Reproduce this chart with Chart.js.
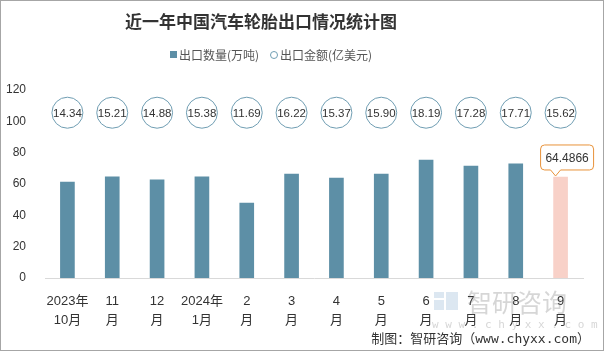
<!DOCTYPE html>
<html>
<head>
<meta charset="utf-8">
<script src="https://cdn.jsdelivr.net/npm/chart.js@4/dist/chart.umd.min.js"></script>
<style>
  html, body { margin: 0; padding: 0; background: #fff; }
  #wrap { width: 604px; height: 351px; position: relative; }
</style>
</head>
<body>
<div id="wrap"><canvas id="myChart" width="604" height="351"></canvas></div>
<script>
// data
const categories = ['2023年10月', '2023年11月', '2023年12月', '2024年1月', '2024年2月', '2024年3月',
                    '2024年4月', '2024年5月', '2024年6月', '2024年7月', '2024年8月', '2024年9月']
const tickLabels = [['2023年', '10月'], ['11', '月'], ['12', '月'], ['2024年', '1月'], ['2', '月'], ['3', '月'],
                    ['4', '月'], ['5', '月'], ['6', '月'], ['7', '月'], ['8', '月'], ['9', '月']]
const exportVolume = [61.3, 64.5, 62.7, 64.5, 47.9, 66.4, 63.8, 66.4, 75.3, 71.5, 72.8, 64.4866]
const exportAmount = [14.34, 15.21, 14.88, 15.38, 11.69, 16.22, 15.37, 15.90, 18.19, 17.28, 17.71, 15.62]
const yTicks = [0, 20, 40, 60, 80, 100, 120]
const bubbleRow = 105.5   // height (in axis units) where the amount bubbles sit
const seriesNames = ['出口数量(万吨)', '出口金额(亿美元)']

const BLUE = '#5d8fa6'
const PINK = '#f8d1c8'
const RING = '#6f9db2'
const ORANGE = '#e8923a'
const FONT = '"Liberation Sans", "Noto Sans CJK SC", sans-serif'

const last = exportVolume.length - 1

const decor = {
    id: 'decor',
    afterDatasetsDraw(chart) {
        const ctx = chart.ctx
        // numbers inside the bubbles
        const pts = chart.getDatasetMeta(1).data
        ctx.save()
        ctx.fillStyle = '#333'
        ctx.font = '11.5px ' + FONT
        ctx.textAlign = 'center'
        ctx.textBaseline = 'middle'
        pts.forEach((p, i) => ctx.fillText(exportAmount[i].toFixed(2), p.x, p.y + 1))
        ctx.restore()

        // callout over the last bar
        const bar = chart.getDatasetMeta(0).data[last]
        const bx = bar.x - 20, bw = 53, bh = 25
        const by = bar.y - 32
        const tipX = bar.x - 5
        ctx.save()
        ctx.beginPath()
        const r = 4
        ctx.moveTo(bx + r, by)
        ctx.lineTo(bx + bw - r, by)
        ctx.quadraticCurveTo(bx + bw, by, bx + bw, by + r)
        ctx.lineTo(bx + bw, by + bh - r)
        ctx.quadraticCurveTo(bx + bw, by + bh, bx + bw - r, by + bh)
        ctx.lineTo(tipX + 5, by + bh)
        ctx.lineTo(tipX, bar.y - 1)
        ctx.lineTo(tipX - 5, by + bh)
        ctx.lineTo(bx + r, by + bh)
        ctx.quadraticCurveTo(bx, by + bh, bx, by + bh - r)
        ctx.lineTo(bx, by + r)
        ctx.quadraticCurveTo(bx, by, bx + r, by)
        ctx.closePath()
        ctx.fillStyle = '#fff'
        ctx.fill()
        ctx.strokeStyle = ORANGE
        ctx.lineWidth = 1
        ctx.stroke()
        ctx.fillStyle = '#333'
        ctx.font = '12px ' + FONT
        ctx.textAlign = 'center'
        ctx.textBaseline = 'middle'
        ctx.fillText(String(exportVolume[last]), bx + bw / 2, by + bh / 2 + 1)
        ctx.restore()
    },
    afterDraw(chart) {
        const ctx = chart.ctx
        ctx.save()
        // title
        ctx.fillStyle = '#333'
        ctx.font = 'bold 17px "Noto Sans CJK SC", sans-serif'
        ctx.textAlign = 'center'
        ctx.textBaseline = 'middle'
        ctx.fillText('近一年中国汽车轮胎出口情况统计图', 261, 22)

        // legend
        ctx.font = '12px "Noto Sans CJK SC", sans-serif'
        ctx.textAlign = 'left'
        ctx.fillStyle = BLUE
        ctx.fillRect(170, 51, 7, 7)
        ctx.fillStyle = '#555'
        ctx.fillText(seriesNames[0], 179, 55)
        ctx.beginPath()
        ctx.arc(274, 55, 3.5, 0, Math.PI * 2)
        ctx.strokeStyle = RING
        ctx.lineWidth = 1
        ctx.stroke()
        ctx.fillText(seriesNames[1], 280, 55)

        // watermark
        ctx.globalAlpha = 0.35
        ctx.fillStyle = '#9bbbd6'
        ctx.fillRect(434, 292, 10, 6)
        ctx.fillRect(434, 300, 10, 10)
        ctx.fillRect(446, 292, 12, 18)
        ctx.fillStyle = '#8a8a8a'
        ctx.font = '25px "Noto Sans CJK SC", sans-serif'
        ctx.fillText('智研咨询', 467, 302)
        ctx.font = '11px "DejaVu Sans Mono", monospace'
        ctx.fillText('w w w . c h y x x . c o m', 432, 325)
        ctx.globalAlpha = 1

        // footer
        ctx.fillStyle = '#333'
        ctx.font = '13px "DejaVu Sans Mono", "Noto Sans CJK SC", monospace'
        ctx.textAlign = 'right'
        ctx.fillText('制图：智研咨询（www.chyxx.com）', 590, 340)

        // frame
        ctx.strokeStyle = '#a6a6a6'
        ctx.lineWidth = 1
        ctx.strokeRect(0.5, 0.5, 603, 350)
        ctx.restore()
    }
}

const ctx = document.getElementById('myChart')
const myChart = new Chart(ctx, {
    type: 'bar',
    data: {
        labels: tickLabels,
        datasets: [{
            label: seriesNames[0],
            data: exportVolume,
            backgroundColor: exportVolume.map((v, i) => i === last ? PINK : BLUE),
            barThickness: 14,
            order: 2
        }, {
            type: 'line',
            label: seriesNames[1],
            data: exportAmount.map(() => bubbleRow),
            showLine: false,
            pointRadius: 15.5,
            pointHoverRadius: 15.5,
            pointBackgroundColor: '#fff',
            pointBorderColor: RING,
            pointBorderWidth: 1,
            order: 1
        }]
    },
    options: {
        responsive: false,
        animation: false,
        events: [],
        layout: { padding: { top: 90, right: 21, left: 0, bottom: 0 } },
        plugins: {
            legend: { display: false },
            title: { display: false },
            tooltip: { enabled: false }
        },
        scales: {
            x: {
                grid: { display: false },
                border: { display: true, color: '#d9d9d9', width: 1 },
                ticks: {
                    color: '#333',
                    font: { family: FONT, size: 13, lineHeight: 1.45 },
                    padding: 6,
                    maxRotation: 0,
                    autoSkip: false
                },
                afterFit: s => { s.height = 73 }
            },
            y: {
                min: 0,
                max: 120,
                afterBuildTicks: s => { s.ticks = yTicks.map(v => ({ value: v })) },
                grid: { display: false },
                border: { display: false },
                ticks: {
                    color: '#333',
                    font: { family: FONT, size: 12 },
                    padding: 11
                },
                afterFit: s => { s.width = 45 }
            }
        }
    },
    plugins: [decor]
})
</script>
</body>
</html>
